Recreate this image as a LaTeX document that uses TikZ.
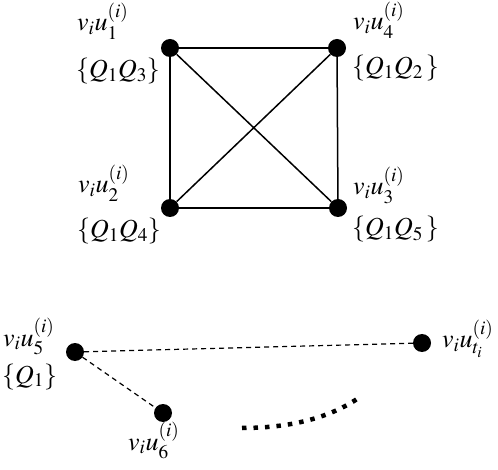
\documentclass[tikz,border=0pt]{standalone}
\usepackage{mathptmx}
\usepackage{tikz}
\tikzstyle{vertex} = [circle, fill=black, inner sep=0pt, minimum size=18pt]
\tikzstyle{lbl} = [anchor=base west, inner sep=0pt, font=\fontsize{26}{30}\selectfont]
\tikzstyle{edge} = [line width=1.5pt]
\tikzstyle{link} = [line width=1.2pt, dash pattern=on 5pt off 4pt]
\tikzstyle{gap} = [line width=4.5pt, dash pattern=on 4.5pt off 7pt]
\begin{document}
\begin{tikzpicture}[x=1pt, y=-1pt]
    \useasboundingbox (0,0) rectangle (498,470);
    % the four u vertices
    \node (u1) [vertex] at (170,48) {};
    \node (u4) [vertex] at (337,48) {};
    \node (u2) [vertex] at (170,208) {};
    \node (u3) [vertex] at (338,208) {};
    \node (l1) [lbl] at (77,31) {$v_iu_1^{(i)}$};
    \node (q1) [lbl] at (76,78) {$\{Q_1Q_3\}$};
    \node (l4) [lbl] at (353,30) {$v_iu_4^{(i)}$};
    \node (q4) [lbl] at (352,75) {$\{Q_1Q_2\,\}$};
    \node (l2) [lbl] at (78,193) {$v_iu_2^{(i)}$};
    \node (q2) [lbl] at (77,238) {$\{Q_1Q_4\}$};
    \node (l3) [lbl] at (353,195) {$v_iu_3^{(i)}$};
    \node (q3) [lbl] at (352,236) {$\{Q_1Q_5\,\}$};

    \draw [edge] (u1) -- (u4);
    \draw [edge] (u4) -- (u3);
    \draw [edge] (u3) -- (u2);
    \draw [edge] (u2) -- (u1);
    \draw [edge] (u1) -- (u3);
    \draw [edge] (u2) -- (u4);

    % the lower vertices
    \node (u5) [vertex] at (75,352) {};
    \node (u6) [vertex] at (163,413) {};
    \node (ut) [vertex] at (422,343) {};
    \node (l5) [lbl] at (3,346) {$v_iu_5^{(i)}$};
    \node (q5) [lbl] at (2,383) {$\{Q_1\}$};
    \node (l6) [lbl] at (128,450) {$v_iu_6^{(i)}$};
    \node (lt) [lbl] at (442,348) {$v_iu_{t_i}^{(i)}$};

    \draw [link] (u5) -- (ut);
    \draw [link] (u5) -- (u6);

    \coordinate (g1) at (242,428);
    \coordinate (g2) at (360,397);
    \draw [gap] (g1) .. controls (290,428) and (330,418) .. (g2);
\end{tikzpicture}
\end{document}
